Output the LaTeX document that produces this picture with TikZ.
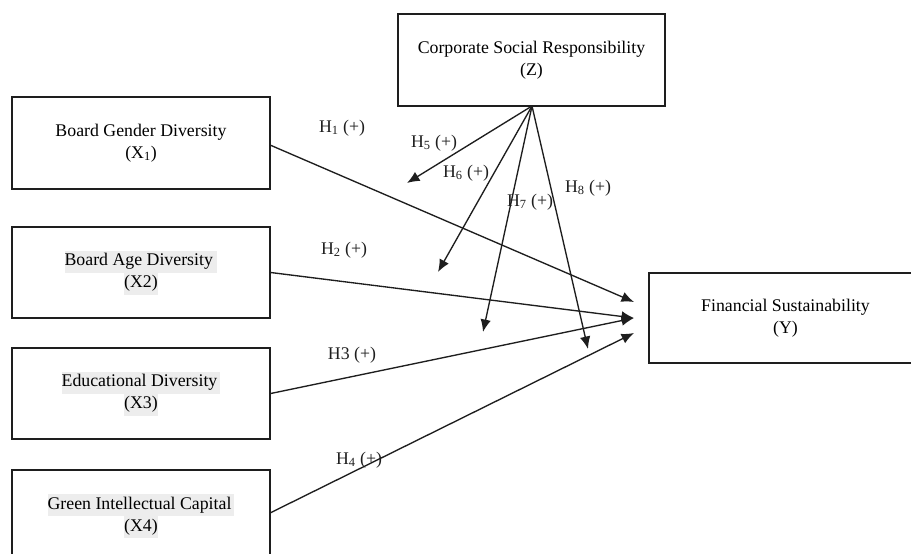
\documentclass[tikz,border=0pt]{standalone}
\usepackage{fontspec}
\setmainfont{Liberation Serif}
\usetikzlibrary{arrows.meta}
\definecolor{hlgray}{HTML}{EDEDED}
\definecolor{ink}{HTML}{1E1E1E}
\newcommand{\hlbox}[1]{{\setlength{\fboxsep}{0pt}\colorbox{hlgray}{\strut #1}}}
\begin{document}
\begin{tikzpicture}[x=1pt,y=-1pt,
  box/.style={draw=ink, line width=1.4pt, align=center, inner sep=0pt,
    font=\fontsize{17.8}{22}\selectfont},
  link/.style={draw=ink, line width=1.35pt, -{Latex[length=12.5pt,width=10.5pt]}},
  hyp/.style={font=\fontsize{17.8}{20}\selectfont, inner sep=0pt, text=ink}]
\useasboundingbox (0,0) rectangle (911,554);
% boxes
\node[box, minimum width=258pt, minimum height=92pt] (x1) at (141,143)
  {Board Gender Diversity\\(X\textsubscript{1})};
\node[box, minimum width=258pt, minimum height=91pt] (x2) at (141,272.5)
  {\hlbox{Board Age Diversity\ }\\\hlbox{(X2)}};
\node[box, minimum width=258pt, minimum height=91pt] (x3) at (141,393.5)
  {\hlbox{Educational Diversity\,}\\\hlbox{(X3)}};
\node[box, minimum width=258pt, minimum height=92pt] (x4) at (141,516)
  {\hlbox{Green Intellectual Capital\,}\\\hlbox{(X4)}};
\node[box, minimum width=267pt, minimum height=92pt] (z) at (531.5,60)
  {Corporate Social Responsibility\\(Z)};
\node[box, minimum width=273pt, minimum height=90pt] (y) at (785.5,318)
  {Financial Sustainability\\(Y)};
% arrow end points
\coordinate (t1) at (634,302);
\coordinate (t2) at (634,318);
\coordinate (t3) at (634,333);
\coordinate (zs) at (532,106);
\coordinate (m5) at (407,183);
\coordinate (m6) at (438,272);
\coordinate (m7) at (483,332);
\coordinate (m8) at (588,349);
% direct effects
\draw[link] (270,145) -- (t1);
\draw[link] (x2.east) -- (t2);
\draw[link] (x3.east) -- (t2);
\draw[link] (270,513) -- (t3);
% moderation
\draw[link] (zs) -- (m5);
\draw[link] (zs) -- (m6);
\draw[link] (zs) -- (m7);
\draw[link] (zs) -- (m8);
% labels
\node[hyp] (l1) at (342,128) {H\textsubscript{1} (+)};
\node[hyp] (l2) at (344,250) {H\textsubscript{2} (+)};
\node[hyp] (l3) at (352,355) {H3 (+)};
\node[hyp] (l4) at (359,460) {H\textsubscript{4} (+)};
\node[hyp] (l5) at (434,143) {H\textsubscript{5} (+)};
\node[hyp] (l6) at (466,173) {H\textsubscript{6} (+)};
\node[hyp] (l7) at (530,202) {H\textsubscript{7} (+)};
\node[hyp] (l8) at (588,188) {H\textsubscript{8} (+)};
\end{tikzpicture}
\end{document}
